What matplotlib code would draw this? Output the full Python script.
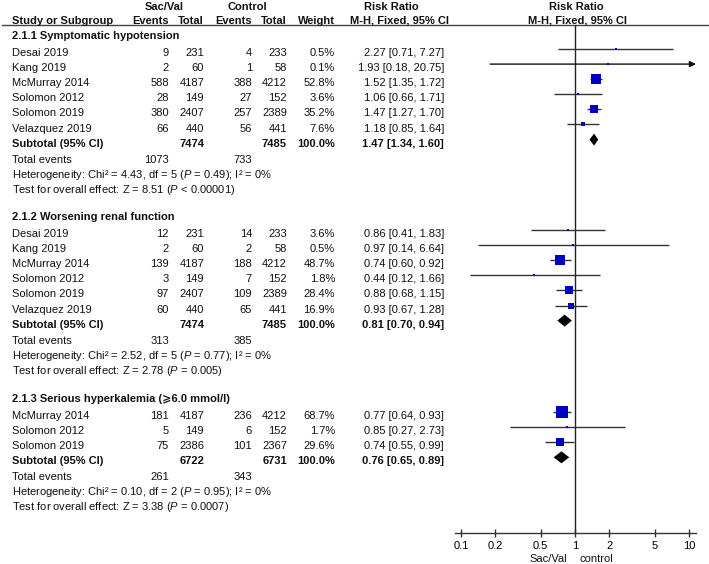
import matplotlib
matplotlib.use("Agg")
import matplotlib.pyplot as plt
import numpy as np

plt.rcParams['font.family'] = ['Liberation Sans', 'DejaVu Sans']
plt.rcParams['mathtext.fontset'] = 'custom'
plt.rcParams['mathtext.rm'] = 'Liberation Sans'
plt.rcParams['mathtext.it'] = 'Liberation Sans:italic'
plt.rcParams['mathtext.bf'] = 'Liberation Sans:bold'

# ---------------- data ----------------
group_titles = ["2.1.1 Symptomatic hypotension",
                "2.1.2 Worsening renal function",
                "2.1.3 Serious hyperkalemia (\u2a7e6.0 mmol/l)"]

g1_studies = ["Desai 2019", "Kang 2019", "McMurray 2014", "Solomon 2012", "Solomon 2019", "Velazquez 2019"]
g1_sv_events = [9, 2, 588, 28, 380, 66]
g1_sv_total = [231, 60, 4187, 149, 2407, 440]
g1_c_events = [4, 1, 388, 27, 257, 56]
g1_c_total = [233, 58, 4212, 152, 2389, 441]
g1_weight = [0.5, 0.1, 52.8, 3.6, 35.2, 7.6]
g1_rr = [2.27, 1.93, 1.52, 1.06, 1.47, 1.18]
g1_lo = [0.71, 0.18, 1.35, 0.66, 1.27, 0.85]
g1_hi = [7.27, 20.75, 1.72, 1.71, 1.70, 1.64]

g2_studies = ["Desai 2019", "Kang 2019", "McMurray 2014", "Solomon 2012", "Solomon 2019", "Velazquez 2019"]
g2_sv_events = [12, 2, 139, 3, 97, 60]
g2_sv_total = [231, 60, 4187, 149, 2407, 440]
g2_c_events = [14, 2, 188, 7, 109, 65]
g2_c_total = [233, 58, 4212, 152, 2389, 441]
g2_weight = [3.6, 0.5, 48.7, 1.8, 28.4, 16.9]
g2_rr = [0.86, 0.97, 0.74, 0.44, 0.88, 0.93]
g2_lo = [0.41, 0.14, 0.60, 0.12, 0.68, 0.67]
g2_hi = [1.83, 6.64, 0.92, 1.66, 1.15, 1.28]

g3_studies = ["McMurray 2014", "Solomon 2012", "Solomon 2019"]
g3_sv_events = [181, 5, 75]
g3_sv_total = [4187, 149, 2386]
g3_c_events = [236, 6, 101]
g3_c_total = [4212, 152, 2367]
g3_weight = [68.7, 1.7, 29.6]
g3_rr = [0.77, 0.85, 0.74]
g3_lo = [0.64, 0.27, 0.55]
g3_hi = [0.93, 2.73, 0.99]

sub_sv_total = [7474, 7474, 6722]
sub_c_total = [7485, 7485, 6731]
sub_rr = [1.47, 0.81, 0.76]
sub_lo = [1.34, 0.70, 0.65]
sub_hi = [1.60, 0.94, 0.89]
tot_sv_events = [1073, 313, 261]
tot_c_events = [733, 385, 343]
het_chi = ["4.43", "2.52", "0.10"]
het_df = [5, 5, 2]
het_p = ["0.49", "0.77", "0.95"]
het_i2 = ["0%", "0%", "0%"]
z_val = ["8.51", "2.78", "3.38"]
z_p = ["< 0.00001", "= 0.005", "= 0.0007"]

tick_vals = [0.1, 0.2, 0.5, 1, 2, 5, 10]
tick_labels = ["0.1", "0.2", "0.5", "1", "2", "5", "10"]
favours_left = "Sac/Val"
favours_right = "control"

groups = [
    (g1_studies, g1_sv_events, g1_sv_total, g1_c_events, g1_c_total, g1_weight, g1_rr, g1_lo, g1_hi),
    (g2_studies, g2_sv_events, g2_sv_total, g2_c_events, g2_c_total, g2_weight, g2_rr, g2_lo, g2_hi),
    (g3_studies, g3_sv_events, g3_sv_total, g3_c_events, g3_c_total, g3_weight, g3_rr, g3_lo, g3_hi),
]

# ---------------- layout ----------------
W, H = 709, 564
fig = plt.figure(figsize=(W / 100, H / 100), dpi=100)
tax = fig.add_axes([0, 0, 1, 1])
tax.set_xlim(0, W)
tax.set_ylim(H, 0)
tax.axis('off')

FS = 8
x_name = 12
x_sve, x_svt, x_ce, x_ct, x_w, x_ci = 169, 204, 252, 287, 335, 444

ax_left, ax_right, ax_top, ax_bot = 455, 696, 25, 533
fax = fig.add_axes([ax_left / W, 1 - ax_bot / H, (ax_right - ax_left) / W, (ax_bot - ax_top) / H])
fax.set_xscale('log')
xmin, xmax = 0.0886, 11.52
fax.set_xlim(xmin, xmax)
fax.set_ylim(ax_bot, ax_top)
fax.patch.set_alpha(0)
for s in ['top', 'right', 'left']:
    fax.spines[s].set_visible(False)
fax.spines['bottom'].set_color('#333333')
fax.spines['bottom'].set_linewidth(1)
fax.set_yticks([])
fax.set_xticks(tick_vals)
fax.set_xticklabels(tick_labels, fontsize=FS)
fax.minorticks_off()
fax.tick_params(axis='x', direction='inout', length=6, width=1, color='#333333', pad=2.5)
fax.axvline(1, color='#222222', lw=1)

def txt(x, y, s, ha='left', bold=False):
    tax.text(x, y, s, ha=ha, va='center', fontsize=FS, fontweight='bold' if bold else 'normal', color='#111111')

# header
txt(164, 7, "Sac/Val", ha='center', bold=True)
txt(247, 7, "Control", ha='center', bold=True)
txt(391, 7, "Risk Ratio", ha='center', bold=True)
txt(576, 7, "Risk Ratio", ha='center', bold=True)
txt(x_name, 20.5, "Study or Subgroup", bold=True)
txt(x_sve, 20.5, "Events", ha='right', bold=True)
txt(x_svt, 20.5, "Total", ha='right', bold=True)
txt(x_ce, 20.5, "Events", ha='right', bold=True)
txt(x_ct, 20.5, "Total", ha='right', bold=True)
txt(x_w, 20.5, "Weight", ha='right', bold=True)
txt(400, 20.5, "M-H, Fixed, 95% CI", ha='center', bold=True)
txt(578, 20.5, "M-H, Fixed, 95% CI", ha='center', bold=True)
tax.plot([2, W], [25, 25], color='#444444', lw=1)

group_start = [36, 217, 399]
row_h = 15.1
mark_off = -4
blue = '#0000c0'
ci_col = '#333333'

for gi, (names, sve, svt, ce, ct, w, rr, lo, hi) in enumerate(groups):
    y = group_start[gi]
    txt(x_name, y, group_titles[gi], bold=True)
    y += 17
    for i in range(len(names)):
        txt(x_name, y, names[i])
        txt(x_sve, y, str(sve[i]), ha='right')
        txt(x_svt, y, str(svt[i]), ha='right')
        txt(x_ce, y, str(ce[i]), ha='right')
        txt(x_ct, y, str(ct[i]), ha='right')
        txt(x_w, y, f"{w[i]:.1f}%", ha='right')
        txt(x_ci, y, f"{rr[i]:.2f} [{lo[i]:.2f}, {hi[i]:.2f}]", ha='right')
        ym = y + mark_off
        if hi[i] > xmax:
            fax.annotate('', xy=(xmax, ym), xytext=(lo[i], ym),
                         arrowprops=dict(arrowstyle='-|>', lw=1, color='#111111',
                                         mutation_scale=9, shrinkA=0, shrinkB=0))
        else:
            fax.plot([max(lo[i], xmin), hi[i]], [ym, ym], color=ci_col, lw=1, solid_capstyle='butt')
        fax.scatter([rr[i]], [ym], marker='s', s=max(w[i] * 1.15, 2.5), color=blue, zorder=3, linewidths=0)
        y += row_h
    # subtotal
    txt(x_name, y, "Subtotal (95% CI)", bold=True)
    txt(x_svt, y, str(sub_sv_total[gi]), ha='right', bold=True)
    txt(x_ct, y, str(sub_c_total[gi]), ha='right', bold=True)
    txt(x_w, y, "100.0%", ha='right', bold=True)
    txt(x_ci, y, f"{sub_rr[gi]:.2f} [{sub_lo[gi]:.2f}, {sub_hi[gi]:.2f}]", ha='right', bold=True)
    ym = y + mark_off
    dh = 6
    fax.fill([sub_lo[gi], sub_rr[gi], sub_hi[gi], sub_rr[gi]], [ym, ym - dh, ym, ym + dh],
             color='black', zorder=3, lw=0)
    y += 16
    txt(x_name, y, "Total events")
    txt(x_sve, y, str(tot_sv_events[gi]), ha='right')
    txt(x_ce, y, str(tot_c_events[gi]), ha='right')
    y += 15
    txt(x_name, y, f"Heterogeneity: Chi\u00b2 = {het_chi[gi]}, df = {het_df[gi]} ($P$ = {het_p[gi]}); I\u00b2 = {het_i2[gi]}")
    y += 15
    txt(x_name, y, f"Test for overall effect: Z = {z_val[gi]} ($P$ {z_p[gi]})")

tax.text(567, 559, favours_left, ha='right', va='center', fontsize=FS, color='#111111')
tax.text(579, 559, favours_right, ha='left', va='center', fontsize=FS, color='#111111')

fig.savefig("out.png", dpi=100)
